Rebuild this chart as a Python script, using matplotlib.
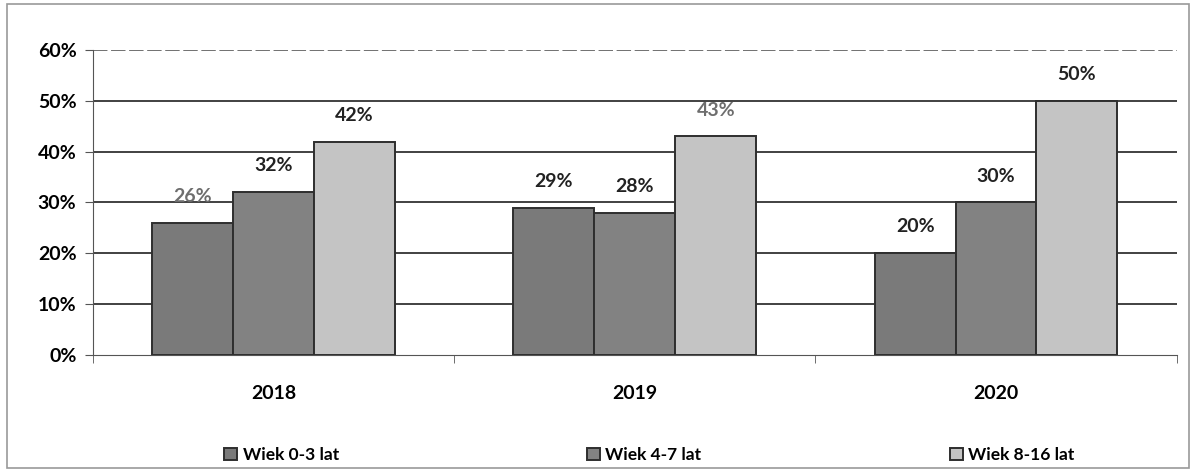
import numpy as np
import matplotlib
matplotlib.use("Agg")
import matplotlib.pyplot as plt
from matplotlib.patches import Rectangle
from matplotlib.ticker import FuncFormatter, FixedLocator

plt.rcParams["font.family"] = ["Lato", "DejaVu Sans"]
plt.rcParams["font.weight"] = "bold"

years = ["2018", "2019", "2020"]
series_names = ["Wiek 0-3 lat", "Wiek 4-7 lat", "Wiek 8-16 lat"]
wiek_0_3 = [26, 29, 20]
wiek_4_7 = [32, 28, 30]
wiek_8_16 = [42, 43, 50]

colors = ["#7a7a7a", "#828282", "#c4c4c4"]
# a couple of labels print in lighter grey in the scan
label_colors = [
    ["#6e6e6e", "#222222", "#222222"],
    ["#222222", "#222222", "#222222"],
    ["#222222", "#6e6e6e", "#222222"],
]

fig = plt.figure(figsize=(11.96, 4.72), dpi=100)
ax = fig.add_axes([0.0778, 0.248, 0.906, 0.646])

x = np.arange(len(years))
width = 0.224
series = [wiek_0_3, wiek_4_7, wiek_8_16]
for i, vals in enumerate(series):
    pos = x + (i - 1) * width
    bars = ax.bar(pos, vals, width, color=colors[i], edgecolor="#2e2e2e",
                  linewidth=1.4, label=series_names[i], zorder=3)
    for j, b in enumerate(bars):
        ax.annotate(f"{vals[j]}%", (b.get_x() + b.get_width() / 2, vals[j]),
                    xytext=(0, 19), textcoords="offset points",
                    ha="center", va="center", fontsize=14, fontweight="bold",
                    color=label_colors[i][j], zorder=4)

ax.set_xlim(-0.5, 2.5)
ax.set_ylim(0, 60)
ax.set_yticks(range(0, 61, 10))
ax.yaxis.set_major_formatter(FuncFormatter(lambda v, p: f"{int(v)}%"))
ax.set_xticks(x)
ax.set_xticklabels(years)
ax.xaxis.set_minor_locator(FixedLocator([-0.5, 0.5, 1.5, 2.5]))
ax.tick_params(axis="x", which="major", length=0, pad=22, labelsize=14)
ax.tick_params(axis="x", which="minor", length=6, color="#555555")
ax.tick_params(axis="y", length=6, color="#555555", labelsize=14, pad=6)

ax.grid(axis="y", color="#333333", linewidth=1.3, zorder=0)
ax.spines["top"].set_visible(False)
ax.spines["right"].set_visible(False)
ax.spines["left"].set_color("#555555")
ax.spines["bottom"].set_color("#555555")
gl = ax.get_ygridlines()
gl[-1].set_color("#666666")
gl[-1].set_linestyle((0, (8, 2)))
gl[0].set_visible(False)

handles, labels = ax.get_legend_handles_labels()
fig.legend(handles, labels, loc="center", bbox_to_anchor=(0.543, 0.036),
           ncol=3, frameon=False, fontsize=12.5, columnspacing=14.3,
           handlelength=0.75, handleheight=0.75, handletextpad=0.3)

fig.patches.append(Rectangle((0.006, 0.008), 0.988, 0.984, transform=fig.transFigure,
                             fill=False, edgecolor="#999999", linewidth=1.2))

fig.savefig("out.png", dpi=100)
